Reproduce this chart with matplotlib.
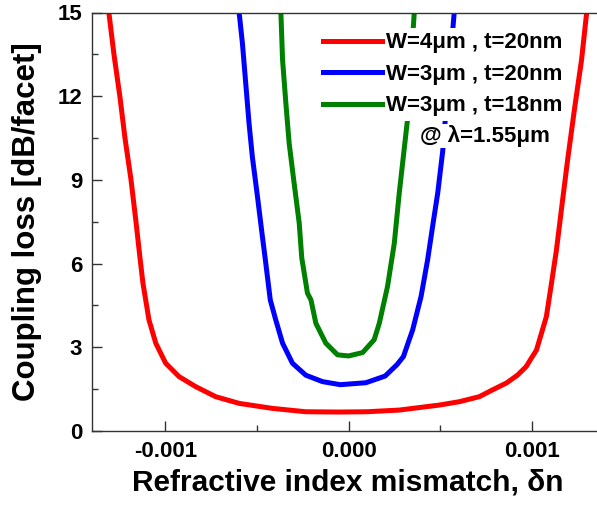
import matplotlib
matplotlib.use('Agg')
import matplotlib.pyplot as plt
from matplotlib.ticker import FormatStrFormatter, MultipleLocator

plt.rcParams['font.family'] = ['Liberation Sans', 'DejaVu Sans']
plt.rcParams['font.weight'] = 'bold'
plt.rcParams['axes.unicode_minus'] = False

# values (x in units of 1e-3)
red_x = [-1.308, -1.28, -1.248, -1.22, -1.187, -1.16, -1.138, -1.122, -1.107, -1.089,
         -1.052, -0.998, -0.925, -0.834, -0.725, -0.597, -0.415, -0.233, -0.05, 0.1,
         0.277, 0.496, 0.605, 0.714, 0.785, 0.862, 0.922, 0.970, 0.998, 1.026,
         1.053, 1.080, 1.108, 1.135, 1.162, 1.196, 1.233, 1.272, 1.300]
red_y = [15, 13.49, 12.0, 10.5, 9.0, 7.5, 6.2, 5.3, 4.7, 3.98,
         3.15, 2.43, 1.95, 1.59, 1.23, 0.99, 0.81, 0.69, 0.68, 0.69,
         0.75, 0.93, 1.05, 1.23, 1.47, 1.72, 2.0, 2.31, 2.61, 2.9,
         3.5, 4.1, 5.3, 6.49, 7.93, 9.72, 11.52, 13.3, 15]

blue_x = [-0.597, -0.579, -0.561, -0.543, -0.525, -0.497, -0.470, -0.455, -0.427, -0.397,
          -0.360, -0.306, -0.233, -0.142, -0.045, 0.095, 0.200, 0.265, 0.300, 0.325,
          0.350, 0.396, 0.432, 0.459, 0.487, 0.514, 0.545, 0.577]
blue_y = [15, 13.9, 12.47, 11.04, 9.84, 8.41, 6.97, 6.2, 4.7, 3.98,
          3.15, 2.43, 2.0, 1.77, 1.66, 1.73, 1.97, 2.38, 2.67, 3.15,
          3.62, 4.82, 6.14, 7.33, 8.53, 10.02, 12.5, 15]

green_x = [-0.369, -0.360, -0.342, -0.324, -0.297, -0.269, -0.255, -0.224, -0.205, -0.178,
           -0.124, -0.060, 0.0, 0.077, 0.140, 0.168, 0.213, 0.250, 0.277, 0.321,
           0.340, 0.359]
green_y = [15, 13.31, 11.76, 10.32, 8.89, 7.45, 6.2, 4.94, 4.7, 3.86,
           3.15, 2.73, 2.69, 2.81, 3.27, 3.86, 5.18, 6.73, 8.53, 11.1,
           13.1, 15]

labels = ['W=4\u03bcm , t=20nm', 'W=3\u03bcm , t=20nm', 'W=3\u03bcm , t=18nm']
note = '@ \u03bb=1.55\u03bcm'

fig = plt.figure(figsize=(5.97, 5.05), dpi=100)
ax = fig.add_axes([92 / 597, 1 - 431 / 505, 513 / 597, 418.5 / 505])

lw = 3.6
ax.plot([v * 1e-3 for v in red_x], red_y, color='#ff0000', lw=lw, label=labels[0])
ax.plot([v * 1e-3 for v in blue_x], blue_y, color='#0000ff', lw=lw, label=labels[1])
ax.plot([v * 1e-3 for v in green_x], green_y, color='#008000', lw=lw, label=labels[2])

ax.set_xlim(-0.0014, 0.0014)
ax.set_ylim(0, 15)
ax.xaxis.set_major_locator(MultipleLocator(0.001))
ax.xaxis.set_minor_locator(MultipleLocator(0.0005))
ax.xaxis.set_major_formatter(FormatStrFormatter('%.3f'))
ax.yaxis.set_major_locator(MultipleLocator(3))
ax.yaxis.set_minor_locator(MultipleLocator(1.5))

ax.tick_params(which='both', direction='in', top=False, right=False, colors='#333333',
               labelcolor='black', labelsize=16)
ax.tick_params(which='major', length=7, width=1)
ax.tick_params(which='minor', length=4, width=1)
ax.tick_params(axis='x', pad=7)
ax.tick_params(axis='y', pad=7)
for s in ax.spines.values():
    s.set_color('#333333')
    s.set_linewidth(1.0)

ax.set_xlabel('Refractive index mismatch, \u03b4n', fontsize=21.5, fontweight='bold')
ax.xaxis.set_label_coords(0.499, -0.09)
ax.set_ylabel('Coupling loss [dB/facet]', fontsize=22.5, fontweight='bold')
ax.yaxis.set_label_coords(-0.0975, 0.5)

leg = ax.legend(loc='upper left', bbox_to_anchor=(318.6 / 597, 1 - 28 / 505),
                bbox_transform=fig.transFigure, fontsize=16,
                frameon=True, framealpha=1, edgecolor='none', facecolor='white',
                handlelength=2.65, handletextpad=0.18, labelspacing=0.47,
                borderpad=0.2, borderaxespad=0)
leg.get_frame().set_boxstyle('square', pad=0)

fig.text(420 / 597, 1 - 136 / 505, note, fontsize=16, fontweight='bold',
         va='center', ha='left',
         bbox=dict(facecolor='white', edgecolor='none', pad=1))

fig.savefig('out.png', dpi=100)
